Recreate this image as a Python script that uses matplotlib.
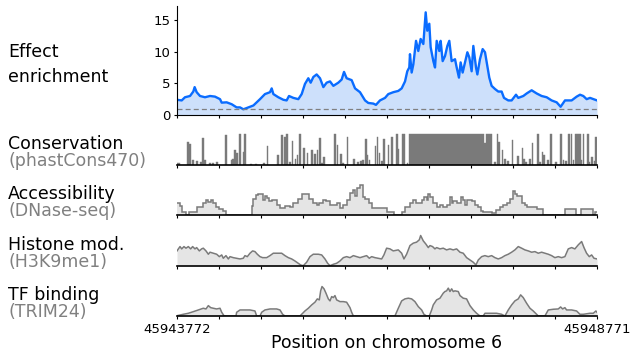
import matplotlib
matplotlib.use("Agg")
import matplotlib.pyplot as plt
import numpy as np

start = 45943772
end = 45948771

# effect enrichment (offset in bp from start, value)
effect_pos = [0, 56, 95, 155, 194, 210, 234, 274, 333, 393, 452, 512, 532, 591, 651, 710, 750, 790,
              849, 909, 988, 1047, 1107, 1127, 1147, 1206, 1266, 1305, 1333, 1385, 1444, 1484, 1523,
              1563, 1591, 1623, 1662, 1702, 1742, 1781, 1821, 1861, 1920, 1960, 1988, 2019, 2079,
              2119, 2178, 2238, 2277, 2337, 2368, 2416, 2476, 2515, 2535, 2575, 2634, 2674, 2714,
              2741, 2765, 2773, 2793, 2813, 2845, 2872, 2900, 2932, 2960, 2979, 3003, 3019, 3051,
              3071, 3091, 3122, 3138, 3162, 3190, 3218, 3241, 3269, 3309, 3329, 3356, 3376, 3400,
              3428, 3456, 3479, 3507, 3527, 3559, 3575, 3606, 3638, 3666, 3686, 3717, 3745, 3785,
              3824, 3864, 3892, 3943, 3983, 4035, 4062, 4122, 4162, 4221, 4281, 4340, 4400, 4459,
              4519, 4566, 4618, 4697, 4757, 4797, 4836, 4876, 4916, 4956, 4999]
effect_val = [2.4, 2.3, 2.8, 3.0, 3.7, 4.4, 3.6, 3.0, 2.8, 3.0, 2.9, 2.5, 1.95, 2.0, 1.7, 1.2, 1.2, 0.9,
              1.2, 1.5, 2.5, 3.3, 3.6, 4.2, 3.3, 2.8, 2.4, 2.3, 3.0, 2.7, 2.5, 3.3, 4.9,
              5.8, 5.1, 6.0, 6.4, 5.8, 4.4, 5.1, 5.3, 4.6, 5.1, 5.6, 6.8, 5.8, 5.5,
              4.2, 3.6, 2.3, 1.9, 1.8, 1.6, 2.3, 2.7, 3.3, 3.4, 3.6, 3.8, 4.2, 5.3,
              6.9, 7.5, 9.6, 6.7, 8.0, 11.7, 10.1, 12.0, 11.2, 16.2, 13.3, 14.4, 10.7, 8.5,
              7.5, 11.7, 10.1, 11.7, 8.5, 9.3, 10.9, 11.7, 8.5, 8.8, 7.5, 5.9, 8.3, 6.7,
              8.3, 9.9, 9.1, 6.9, 10.9, 7.5, 6.4, 8.8, 10.4, 9.9, 8.3, 5.9, 4.6, 4.1,
              3.7, 3.7, 2.7, 2.3, 2.3, 3.2, 2.7, 3.0, 3.4, 3.9, 3.4, 3.0, 2.8, 2.3,
              2.0, 1.3, 2.3, 2.3, 2.9, 3.2, 3.0, 2.5, 2.7, 2.5, 2.3]
baseline_level = 1.0

# conservation bars: start offset, height, width
cons_pos = [5, 123, 143, 182, 226, 274, 301, 321, 385, 420, 464, 571, 643, 659, 682, 702, 742, 782, 801,
            870, 930, 1020, 1067, 1194, 1242, 1273, 1297, 1329, 1364, 1400, 1424, 1452, 1503, 1543,
            1598, 1630, 1662, 1686, 1710, 1741, 1872, 1900, 1940, 1963, 2019, 2098, 2146, 2178, 2202,
            2241, 2257, 2281, 2352, 2376, 2400, 2424, 2456, 2507, 2551, 2610, 2626, 2681, 2733, 2757,
            3650, 3675, 3772, 3804, 3824, 3864, 3892, 3931, 3983, 4050, 4102, 4122, 4142, 4193, 4221,
            4281, 4305, 4340, 4360, 4408, 4439, 4499, 4558, 4590, 4618, 4657, 4685, 4709, 4737, 4764,
            4788, 4804, 4828, 4876, 4895, 4931, 4963, 4980]
cons_h = [0.05, 0.73, 0.68, 0.16, 0.14, 0.08, 0.87, 0.16, 0.06, 0.06, 0.08, 0.95, 0.16, 0.18, 0.49, 0.38, 0.99, 0.43, 0.99,
          0.03, 0.03, 0.06, 0.62, 0.32, 0.95, 0.9, 0.99, 0.1, 0.75, 0.2, 0.32, 0.99, 0.55, 0.38,
          0.47, 0.36, 0.47, 0.86, 0.06, 0.27, 0.99, 0.64, 0.36, 0.05, 0.88, 0.18, 0.08, 0.14, 0.16,
          0.84, 0.32, 0.16, 0.62, 0.9, 0.38, 0.12, 0.82, 0.64, 0.9, 0.99, 0.5, 0.99, 0.06, 0.99,
          0.7, 0.99, 0.1, 0.99, 0.73, 0.49, 0.18, 0.12, 0.79, 0.29, 0.55, 0.2, 0.1, 0.2, 0.71,
          0.99, 0.08, 0.4, 0.32, 0.16, 0.99, 0.1, 0.99, 0.16, 0.12, 0.99, 0.99, 0.16, 0.99, 0.99,
          0.99, 0.16, 0.99, 0.99, 0.08, 0.27, 0.12, 0.88]
cons_w = [25, 22, 20, 22, 28, 22, 18, 20, 22, 22, 22, 22, 22, 22, 22, 22, 18, 22, 18,
          22, 22, 22, 22, 22, 22, 22, 22, 22, 22, 22, 22, 22, 22, 22,
          22, 22, 22, 22, 22, 22, 22, 22, 22, 22, 22, 22, 22, 22, 22,
          22, 22, 22, 22, 22, 22, 22, 22, 22, 22, 22, 22, 32, 22, 893,
          25, 70, 22, 22, 22, 22, 22, 22, 22, 22, 22, 22, 22, 22, 22,
          22, 22, 22, 22, 22, 22, 22, 22, 22, 22, 22, 22, 22, 22, 22,
          22, 22, 22, 22, 22, 22, 22, 19]

# accessibility (step edges and levels)
acc_edges = [0, 36, 56, 107, 147, 242, 305, 345, 373, 401, 432, 464, 504, 551, 583, 889, 908, 940, 968, 1027,
             1047, 1067, 1099, 1126, 1186, 1226, 1285, 1345, 1384, 1436, 1491, 1571, 1622, 1662, 1694, 1741,
             1773, 1821, 1900, 1940, 1971, 2019, 2059, 2091, 2118, 2146, 2178, 2210, 2237, 2289, 2317, 2495,
             2582, 2674, 2713, 2773, 2812, 2844, 2912, 2939, 2971, 2991, 3011, 3042, 3090, 3130, 3161, 3209,
             3249, 3269, 3288, 3328, 3376, 3400, 3427, 3455, 3507, 3546, 3586, 3614, 3645, 3745, 3796, 3844,
             3884, 3923, 3963, 3995, 4022, 4050, 4102, 4141, 4169, 4280, 4351, 4617, 4748, 4804, 4947, 4974, 4999]
acc_vals = [12, 8.7, 3, 0, 3, 8, 12, 15.3, 13, 15.3, 12, 8, 6.3, 3.7, 0, 8.7, 16.3, 19.7, 21, 15.3,
            18.7, 17, 13.7, 15.3, 10.3, 7, 9.3, 8, 12, 16.3, 21, 16.3, 12, 9.7, 12, 15.3, 13.7, 9.7, 12, 7,
            9.7, 15.3, 22, 25.3, 18.7, 27, 30.3, 17.7, 16.3, 12, 7, 3, 0, 3, 8, 12, 15.3, 12, 15.3, 17.7,
            15.3, 21, 17.7, 12, 8, 10.3, 8, 10.3, 17.7, 12, 13.7, 12, 17.7, 15.3, 9.7, 15.3, 14.3, 9.7, 8, 3.7,
            3, 2, 5.3, 8, 9.7, 12, 16.3, 23.7, 21, 18.7, 12, 9.7, 8, 6, 0, 6, 0, 6, 0, 3]

# histone mark
hist_pos = [0, 36, 56, 83, 107, 135, 163, 186, 214, 234, 266, 293, 313, 345, 373, 393, 432, 472, 504, 532,
            551, 583, 611, 631, 670, 710, 750, 789, 809, 837, 869, 900, 928, 956, 988, 1019, 1067, 1107,
            1146, 1186, 1246, 1285, 1325, 1365, 1404, 1444, 1472, 1503, 1543, 1583, 1622, 1682, 1722, 1761,
            1793, 1821, 1861, 1900, 1940, 1980, 2019, 2059, 2099, 2138, 2178, 2218, 2257, 2289, 2317, 2356,
            2396, 2436, 2463, 2495,
            2535, 2574, 2634, 2674, 2701, 2733, 2773, 2812, 2852, 2884, 2900, 2931, 2963, 2991, 3011, 3042,
            3070, 3090, 3130, 3169, 3209, 3249, 3288, 3328, 3368, 3407, 3447, 3487, 3527, 3558, 3586, 3626,
            3665, 3705, 3745, 3784, 3824, 3864, 3903, 3943, 3983, 4022, 4062, 4102, 4141, 4181, 4221, 4260,
            4300, 4340, 4379, 4419, 4459, 4498, 4538, 4578, 4617, 4657, 4697, 4736, 4776, 4816, 4844, 4875,
            4907, 4935, 4963, 4999]
hist_val = [15, 19.3, 17, 19.3, 17.7, 19.3, 17, 19.3, 17, 18.3, 15, 17, 17.7, 15, 11.7, 13.7, 12.7, 11.7, 9.3, 11,
            7.7, 10.3, 7, 9.3, 8.3, 7.7, 7, 7.7, 10.3, 9.3, 12.7, 15, 14.3, 11.7, 9.3, 8.3, 8.3, 10.3,
            12.7, 12.7, 12.7, 10.3, 8.3, 7, 5, 2.7, 1, 0.3, 3.7, 9.3, 11.7, 11.7, 11, 7,
            2.7, 0.3, 1.7, 2.7, 5, 8.3, 9.3, 8.3, 10.3, 9.3, 8.3, 9.3, 10.3, 7.7, 9.3, 8.3,
            7.7, 7, 11, 17.7,
            17, 15, 16, 12.7, 7, 11.7, 20.3, 22.7, 23.7, 26, 30.3, 25, 21.7, 18.3, 20.3, 19.3,
            17, 18.3, 17, 17.7, 16, 17, 16, 17, 13.7, 12.7, 8.3, 6, 3.7, 1, 6, 9.3,
            10.3, 9.3, 10.3, 8.3, 7, 8.3, 10.3, 11.7, 13.7, 16, 19.3, 17.7, 16, 15, 13.7, 14.3,
            12.7, 13.7, 12.7, 11.7, 10.3, 8.3, 9.3, 8.3, 9.3, 17, 18.3, 17, 21, 24.3, 18.3, 12.7,
            9.3, 11, 7.7, 7]

# TF binding
tf_pos = [0, 75, 135, 194, 254, 313, 345, 373, 401, 432, 472, 512, 532, 559, 591, 702, 710, 750, 809, 869,
          928, 948, 988, 1008, 1047, 1107, 1186, 1226, 1257, 1285, 1464, 1484, 1523, 1563, 1603, 1642, 1670,
          1694, 1710, 1726, 1750, 1773, 1801, 1821, 1841, 1861, 1880, 1900, 1940, 1980, 2019, 2059, 2079,
          2099, 2535, 2594, 2634, 2674, 2713, 2753, 2793, 2832, 2872, 2912, 2939, 2971, 3003, 3031, 3050,
          3090, 3130, 3169, 3189, 3209, 3229, 3249, 3269, 3288, 3308, 3348, 3368, 3407, 3447, 3487, 3527,
          3566, 3606, 3645, 3665, 3804, 3864, 3903, 3943, 3983, 4022, 4062, 4090, 4121, 4161, 4201, 4240,
          4280, 4300, 4379, 4419, 4479, 4538, 4566, 4590, 4617, 4637, 4697, 4756, 4796, 4836, 4915, 4955,
          4986, 4999]
tf_val = [0.3, 1.7, 2.7, 4.3, 6, 7.7, 7, 10.3, 8.3, 7.7, 7, 7.7, 3.7, 0.3, 0, 0, 3.7, 6, 6, 6,
          5, 0, 0, 3.7, 6, 7, 7, 6, 1.7, 0, 0, 1.7, 5, 7.7, 11, 13.7, 17,
          16, 25, 29.3, 27, 22.7, 17, 15, 19.3, 18.3, 20.3, 16, 14.3, 14.3, 13.7, 8.3, 3.7,
          0, 0, 0, 7.7, 15, 17, 17.7, 17, 14.3, 9.3, 6, 1.7, 0, 0, 6, 11,
          16, 17.7, 22.7, 24.3, 25, 27.7, 24.3, 27, 24.3, 25, 24.3, 20.3, 17.7, 17, 10.3, 6,
          2.7, 0, 0, 2.7, 2.7, 1.7, 0, 6, 11, 15, 17, 21, 18.3, 12.7, 7.7, 5,
          1.7, 0, 0, 6, 6.7, 7, 9, 7, 8.3, 6, 6, 5, 1.7, 1.7, 2.7, 2.7,
          5, 3.7]

track_titles = ["Conservation", "Accessibility", "Histone mod.", "TF binding"]
track_subs = ["(phastCons470)", "(DNase-seq)", "(H3K9me1)", "(TRIM24)"]

W, H = 631, 351
fig = plt.figure(figsize=(W / 100, H / 100), dpi=100)

left = 177 / W
width = 420 / W
ticks = np.linspace(start, end, 11)
gray = "#808080"
fill_gray = "#e5e5e5"

def px_axes(top_px, bottom_px):
    return fig.add_axes([left, (H - bottom_px) / H, width, (bottom_px - top_px) / H])

# top panel
ax0 = px_axes(6, 115)
ep = start + np.array(effect_pos)
ax0.fill_between(ep, effect_val, color="#cde0fb", lw=0)
ax0.plot(ep, effect_val, color="#0a6cff", lw=1.7)
ax0.axhline(baseline_level, color=gray, lw=0.9, ls=(0, (4, 2.5)))
ax0.set_xlim(start, end)
ax0.set_ylim(0, 17.2)
ax0.set_yticks([0, 5, 10, 15])
ax0.set_xticks(ticks)
ax0.set_xticklabels([])
ax0.spines[["top", "right"]].set_visible(False)
ax0.tick_params(length=2.3, width=0.8, pad=2.4, labelsize=9.5)

tracks = []
for top, bot in [(133, 165), (183, 215), (234, 266), (284, 316)]:
    ax = px_axes(top, bot)
    ax.set_xlim(start, end)
    ax.set_xticks(ticks)
    ax.set_xticklabels([])
    ax.set_yticks([])
    ax.spines[["top", "right", "left"]].set_visible(False)
    ax.spines["bottom"].set_linewidth(1.2)
    ax.tick_params(length=2.3, width=0.8, pad=2.4, labelsize=9.5)
    tracks.append(ax)

ax1, ax2, ax3, ax4 = tracks

ax1.bar(start + np.array(cons_pos), cons_h, width=cons_w, align="edge",
        color="#7a7a7a", edgecolor="#7a7a7a", lw=0.3)
ax1.set_ylim(0, 1.02)

ae = start + np.array(acc_edges)
ax2.stairs(acc_vals, ae, fill=True, color=fill_gray, lw=0)
ax2.stairs(acc_vals, ae, color="#7a7a7a", lw=1.1, baseline=None)
ax2.set_ylim(0, 31.8)

hp = start + np.array(hist_pos)
ax3.fill_between(hp, hist_val, color=fill_gray, lw=0)
ax3.plot(hp, hist_val, color="#7a7a7a", lw=1.1)
ax3.set_ylim(0, 31.8)

tp = start + np.array(tf_pos)
ax4.fill_between(tp, tf_val, color=fill_gray, lw=0)
ax4.plot(tp, tf_val, color="#7a7a7a", lw=1.1)
ax4.set_ylim(0, 31.8)
ax4.set_xticklabels([str(start)] + [""] * 9 + [str(end)])

# labels on the left
fig.text(8 / W, (H - 57) / H, "Effect", fontsize=12.5, va="baseline")
fig.text(8 / W, (H - 82) / H, "enrichment", fontsize=12.5, va="baseline")
for ax, t, s in zip(tracks, track_titles, track_subs):
    b = ax.get_position()
    yc = (b.y0 + b.y1) / 2
    fig.text(8 / W, yc + 0 / H, t, fontsize=12.5, va="baseline")
    fig.text(8 / W, yc - 17 / H, s, fontsize=12.5, va="baseline", color=gray)

fig.text(left + width / 2, 3 / H, "Position on chromosome 6", fontsize=12.5, ha="center", va="baseline")

fig.savefig("out.png", dpi=100)
